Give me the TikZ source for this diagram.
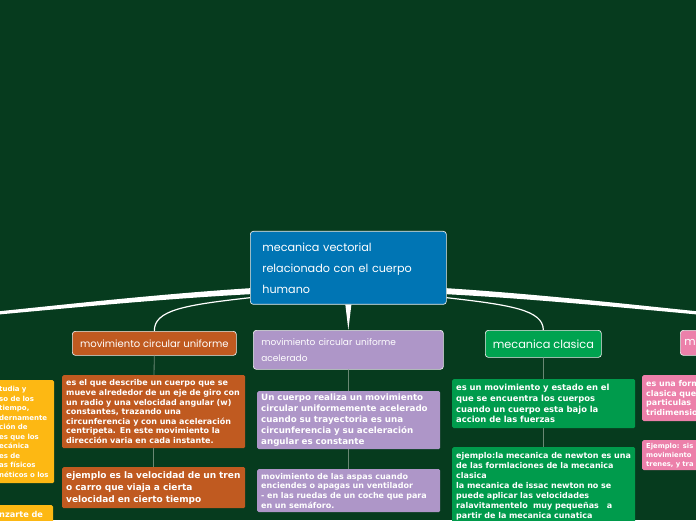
\documentclass[tikz,border=0pt]{standalone}
\usepackage{fontspec}
\newfontfamily\bx{DejaVu Sans}
\newfontfamily\hand{Poppins}
\usetikzlibrary{positioning}

\definecolor{bg}{RGB}{6,59,30}
\definecolor{mapblue}{RGB}{0,117,180}
\definecolor{maporange}{RGB}{192,90,32}
\definecolor{mappurple}{RGB}{174,150,200}
\definecolor{mapgreen}{RGB}{0,163,80}
\definecolor{mappink}{RGB}{236,128,170}
\definecolor{mapyellow}{RGB}{253,184,19}
\definecolor{linkgray}{RGB}{105,135,115}

\tikzset{
  title/.style={draw=white!85!gray, line width=0.7pt, rounded corners=3pt, text=white,
    font=\hand, inner sep=0pt},
  box/.style={rounded corners=1.5pt, anchor=north west, text=white, align=left,
    inner xsep=4pt, inner ysep=0pt},
  link/.style={draw=linkgray, line width=0.8pt},
  branch/.style={draw=white, line width=1.2pt}
}

\begin{document}
\begin{tikzpicture}[x=1pt, y=1pt]
  \useasboundingbox (0,0) rectangle (696,520);
  \fill[bg] (0,0) rectangle (696,520);
  \clip (0,0) rectangle (696,520);

  \node[title, fill=mapblue, anchor=north west, minimum width=196pt, minimum height=73pt,
    text width=172pt, align=left, font=\hand\fontsize{11.2}{21}\selectfont]
    (center) at (250,289) {mecanica vectorial\\relacionado con el cuerpo\\humano};

  \node[title, fill=maporange, anchor=north west, minimum width=164pt, minimum height=24pt,
    font=\hand\fontsize{10}{12}\selectfont] (mcu) at (72,189) {movimiento circular uniforme};
  \node[box, font=\bx\bfseries\fontsize{8}{9.6}\selectfont, fill=maporange, text width=175pt,
    minimum height=73pt] (mcudef) at (62,145)
    {es el que describe un cuerpo que se\\mueve alrededor de un eje de giro con\\un radio y una velocidad angular (w)\\constantes, trazando una\\circunferencia y con una aceleración\\centripeta. En este movimiento la\\dirección varia en cada instante.};
  \node[box, font=\bx\bfseries\fontsize{9}{12}\selectfont, fill=maporange, text width=175pt,
    minimum height=41pt] (mcuej) at (62,53)
    {ejemplo es la velocidad de un tren\\o carro que viaja a cierta\\velocidad en cierto tiempo};

  \node[title, fill=mappurple, anchor=north west, minimum width=190pt, minimum height=39pt,
    text width=174pt, align=left, font=\hand\fontsize{9}{16}\selectfont]
    (mcua) at (253,190) {movimiento circular uniforme\\acelerado};
  \node[box, font=\bx\bfseries\fontsize{8.7}{10.8}\selectfont, fill=mappurple, text width=175pt,
    minimum height=58pt] (mcuadef) at (257,129)
    {Un cuerpo realiza un movimiento\\circular uniformemente acelerado\\cuando su trayectoria es una\\circunferencia y su aceleración\\angular es constante};
  \node[box, font=\bx\bfseries\fontsize{8}{9.6}\selectfont, fill=mappurple, text width=175pt,
    minimum height=43pt] (mcuaej) at (257,51)
    {movimiento de las aspas cuando\\enciendes o apagas un ventilador\\- en las ruedas de un coche que para\\en un semáforo.};

  \node[title, fill=mapgreen, anchor=north west, minimum width=116pt, minimum height=27pt,
    font=\hand\fontsize{11.3}{13}\selectfont] (clasica) at (485,190) {mecanica clasica};
  \node[box, font=\bx\bfseries\fontsize{8.4}{10.6}\selectfont, fill=mapgreen!95!black,
    text width=175pt, minimum height=49pt] (clasdef) at (452,141)
    {es un movimiento y estado en el\\que se encuentra los cuerpos\\cuando un cuerpo esta bajo la\\accion de las fuerzas};
  \node[box, font=\bx\bfseries\fontsize{8}{10}\selectfont, fill=mapgreen!95!black, text width=175pt,
    minimum height=78pt] (clasej) at (452,73)
    {ejemplo:la mecanica de newton es una\\de las formlaciones de la mecanica\\clasica\\la mecanica de issac newton no se\\puede aplicar las velocidades\\ralavitamentelo\ \ muy pequeñas\ \ \ a\\partir de la mecanica cunatica};

  \node[title, fill=mappink, anchor=north west, minimum width=60pt, minimum height=25pt,
    text width=52pt, align=left, font=\hand\fontsize{11}{13}\selectfont] (cuant) at (680,190) {m};
  \node[box, font=\bx\bfseries\fontsize{8}{9.6}\selectfont, fill=mappink, text width=72pt,
    minimum height=46pt] (cuantdef) at (642,145)
    {es una form\\clasica que\\particulas\\tridimensio};
  \node[box, font=\bx\bfseries\fontsize{6.8}{9}\selectfont, fill=mappink, text width=72pt,
    minimum height=30pt] (cuantej) at (642,80) {Ejemplo: sis\\movimiento\\trenes, y tra};

  \node[box, font=\bx\bfseries\fontsize{7}{9.5}\selectfont, fill=mapyellow, inner xsep=7pt,
    text width=48pt, minimum height=103pt] (fisdef) at (-8,140)
    {tudia y\\so de los\\tiempo,\\dernamente\\ción de\\es que los\\ecánica\\es de\\as físicos\\\mbox{néticos o los}};
  \node[box, font=\bx\bfseries\fontsize{8.2}{10}\selectfont, fill=mapyellow, inner xsep=7pt,
    text width=47pt, minimum height=18pt] (fisej) at (-8,15) {nzarte de};

  \coordinate (leftend) at (-10,206);
  \coordinate (rightend) at (706,206);

  \fill[white] ([yshift=16.5pt]center.south west) .. controls (160,226) and (70,216) .. ([yshift=1.8pt]leftend)
    -- ([yshift=-1.3pt]leftend) .. controls (70,212) and (160,221) .. ([yshift=10.5pt]center.south west) -- cycle;
  \fill[white] ([yshift=16.5pt]center.south east) .. controls (536,226) and (626,216) .. ([yshift=1.8pt]rightend)
    -- ([yshift=-1.3pt]rightend) .. controls (626,212) and (536,221) .. ([yshift=10.5pt]center.south east) -- cycle;
  \fill[white] ([xshift=-3pt]center.south) -- (mcua.north) -- ([xshift=3pt]center.south) -- cycle;
  \draw[branch] ([yshift=7pt]center.south west) .. controls (185,215) and (154,210) .. (mcu.north);
  \draw[branch] ([yshift=7pt]center.south east) .. controls (511,215) and (543,210) .. (clasica.north);

  \draw[link] (mcu) -- (mcudef);
  \draw[link] (mcudef) -- (mcuej);
  \draw[link] (mcua) -- (mcuadef);
  \draw[link] (mcuadef) -- (mcuaej);
  \draw[link] (clasica) -- (clasdef);
  \draw[link] (clasdef) -- (clasej);
\end{tikzpicture}
\end{document}
